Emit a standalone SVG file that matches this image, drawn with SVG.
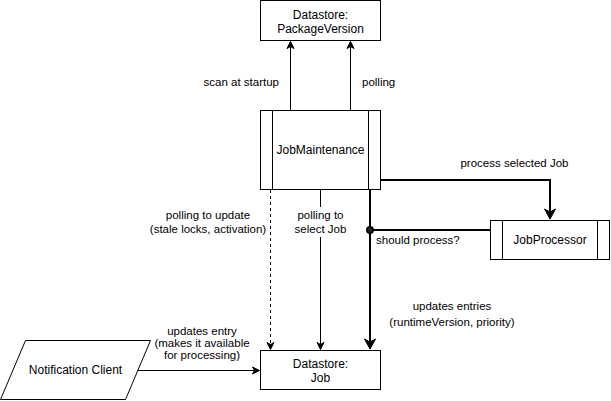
<svg xmlns="http://www.w3.org/2000/svg" width="611" height="401" viewBox="0 0 611 401">
<defs>
<style>
.box{fill:#fff;stroke:#000;stroke-width:1}
.t{font-family:"Liberation Sans",Arial,Helvetica,sans-serif;font-size:12px;fill:#000;text-anchor:middle}
.l{font-family:"Liberation Sans",Arial,Helvetica,sans-serif;font-size:11.5px;fill:#000;text-anchor:middle}
.e{fill:none;stroke:#000;stroke-width:1}
.thick{fill:none;stroke:#000;stroke-width:2}
</style>
<marker id="arr" viewBox="-8 -5 9 10" refX="0" refY="0" markerWidth="9" markerHeight="10" markerUnits="userSpaceOnUse" orient="auto">
<path d="M0,0 L-7,-3.5 L-5,0 L-7,3.5 Z" fill="#000" stroke="#000" stroke-width="1"/>
</marker>
<marker id="arrT" viewBox="-12 -7 13 14" refX="0" refY="0" markerWidth="13" markerHeight="14" markerUnits="userSpaceOnUse" orient="auto">
<path d="M0,0 L-10,-5.5 L-7,0 L-10,5.5 Z" fill="#000" stroke="#000" stroke-width="1"/>
</marker>
</defs>
<rect width="611" height="401" fill="#fff"/>
<g id="connectors">
<path class="e" d="M290.5,110 V41.5" marker-end="url(#arr)"/>
<path class="e" d="M350.5,110 V41.5" marker-end="url(#arr)"/>
<path class="e" d="M270.5,190 V349.5" stroke-dasharray="3,3" marker-end="url(#arr)"/>
<path class="e" d="M320.5,190 V349.5" marker-end="url(#arr)"/>
<path class="thick" d="M370,190 V349" marker-end="url(#arrT)"/>
<path class="thick" d="M381,180 H550 V219" marker-end="url(#arrT)"/>
<path class="thick" d="M490,230 H373"/>
<circle cx="370" cy="230" r="3.2" fill="#222" stroke="#000" stroke-width="1.5"/>
<path class="e" d="M137.5,370.5 H259.5" marker-end="url(#arr)"/>
<text class="l" x="279" y="86" style="text-anchor:end">scan at startup</text>
<text class="l" x="362" y="86" style="text-anchor:start">polling</text>
<text class="l" x="514.5" y="167">process selected Job</text>
<text class="l" x="376" y="244" style="text-anchor:start">should process?</text>
<text class="l" x="208" y="219">polling to update</text>
<text class="l" x="208" y="233">(stale locks, activation)</text>
<rect x="293" y="207" width="55" height="30" fill="#fff"/>
<text class="l" x="320.5" y="219">polling to</text>
<text class="l" x="320.5" y="233">select Job</text>
<text class="l" x="452" y="310">updates entries</text>
<text class="l" x="452" y="326">(runtimeVersion, priority)</text>
<text class="l" x="202" y="335">updates entry</text>
<text class="l" x="202" y="347">(makes it available</text>
<text class="l" x="202" y="359">for processing)</text>
</g>
<g id="pkgversion">
<rect class="box" x="260.5" y="0.5" width="120" height="40"/>
<text class="t" x="320.5" y="18.5">Datastore:</text>
<text class="t" x="320.5" y="32.5">PackageVersion</text>
</g>
<g id="jobmaintenance">
<rect class="box" x="260.5" y="110.5" width="120" height="79"/>
<path class="e" d="M272.5,110.5 V189.5 M368.5,110.5 V189.5"/>
<text class="t" x="320.5" y="154">JobMaintenance</text>
</g>
<g id="jobprocessor">
<rect class="box" x="490.5" y="220.5" width="119" height="39"/>
<path class="e" d="M502.5,220.5 V259.5 M597.5,220.5 V259.5"/>
<text class="t" x="550" y="244">JobProcessor</text>
</g>
<g id="jobstore">
<rect class="box" x="260.5" y="350.5" width="120" height="39"/>
<text class="t" x="320.5" y="367.5">Datastore:</text>
<text class="t" x="320.5" y="381.5">Job</text>
</g>
<g id="notification">
<path class="box" d="M25.5,340.5 H150.5 L125.5,399.5 H0.5 Z"/>
<text class="t" x="75.5" y="374">Notification Client</text>
</g>
</svg>
